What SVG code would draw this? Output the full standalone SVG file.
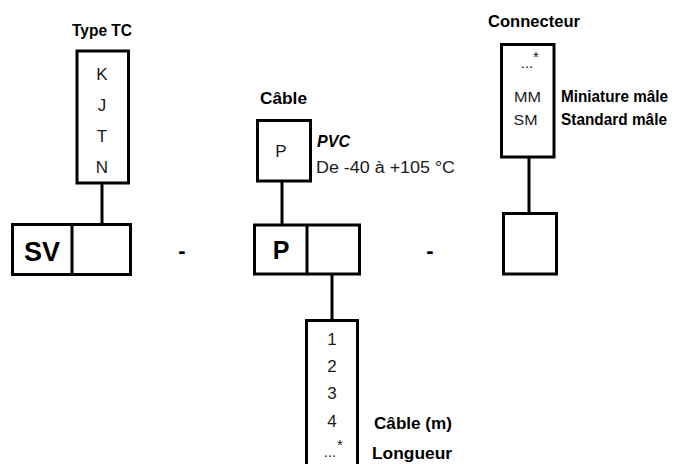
<svg xmlns="http://www.w3.org/2000/svg" width="678" height="464" viewBox="0 0 678 464">
<style>
.box{fill:#fff;stroke:#000;stroke-width:3}
.ln{stroke:#000;stroke-width:3;fill:none}
.t{font-family:"Liberation Sans",Arial,sans-serif;font-size:17px;fill:#1a1a1a;text-anchor:middle}
.b{font-family:"Liberation Sans",Arial,sans-serif;font-size:17px;font-weight:bold;fill:#000}
.big{font-family:"Liberation Sans",Arial,sans-serif;font-weight:bold;fill:#000;text-anchor:middle}
.s{font-family:"Liberation Sans",Arial,sans-serif;font-size:15px;fill:#1a1a1a;text-anchor:middle}
</style>
<rect width="678" height="464" fill="#fff"/>
<g id="connectors">
<line class="ln" x1="102" y1="183" x2="102" y2="224"/>
<line class="ln" x1="282" y1="181" x2="282" y2="225"/>
<line class="ln" x1="332" y1="274" x2="332" y2="320"/>
<line class="ln" x1="529" y1="157" x2="529" y2="213"/>
</g>
<g id="typetc">
<text class="b" x="72" y="36" textLength="60" lengthAdjust="spacingAndGlyphs">Type TC</text>
<rect class="box" x="77" y="51" width="51.5" height="132"/>
<text class="t" x="102" y="80">K</text>
<text class="t" x="102" y="111">J</text>
<text class="t" x="102" y="142">T</text>
<text class="t" x="102" y="173">N</text>
</g>
<g id="sv">
<rect class="box" x="12.5" y="224.5" width="118" height="50"/>
<line class="ln" x1="72" y1="224.5" x2="72" y2="274.5"/>
<text class="big" x="42" y="261" font-size="27">SV</text>
</g>
<text class="big" x="182" y="258" font-size="22">-</text>
<g id="cable">
<text class="b" x="260" y="104" textLength="47" lengthAdjust="spacingAndGlyphs">Câble</text>
<rect class="box" x="257.5" y="120.5" width="53" height="60.5"/>
<text class="t" x="281" y="157">P</text>
<text class="b" x="317" y="147" font-style="italic" textLength="33" lengthAdjust="spacingAndGlyphs">PVC</text>
<text x="316" y="173" font-family="Liberation Sans,Arial,sans-serif" font-size="16" fill="#1a1a1a" textLength="139" lengthAdjust="spacingAndGlyphs">De -40 à +105 °C</text>
</g>
<g id="p">
<rect class="box" x="254.5" y="225" width="105" height="49"/>
<line class="ln" x1="307" y1="225" x2="307" y2="274"/>
<text class="big" x="281" y="259" font-size="25">P</text>
</g>
<text class="big" x="430" y="258" font-size="22">-</text>
<g id="longueur">
<path class="ln" d="M306.5 470 V320.5 H357.5 V470"/>
<text class="t" x="332" y="345" font-size="18">1</text>
<text class="t" x="332" y="372" font-size="18">2</text>
<text class="t" x="332" y="399" font-size="18">3</text>
<text class="t" x="332" y="427" font-size="18">4</text>
<text class="s" x="330" y="457">...</text>
<text class="s" x="340" y="450" font-size="12">*</text>
<text class="b" x="374" y="429" textLength="78" lengthAdjust="spacingAndGlyphs">Câble (m)</text>
<text class="b" x="372" y="459" textLength="80" lengthAdjust="spacingAndGlyphs">Longueur</text>
</g>
<g id="connecteur">
<text class="b" x="488" y="27" textLength="92" lengthAdjust="spacingAndGlyphs">Connecteur</text>
<rect class="box" x="501.5" y="44.5" width="52.5" height="112.5"/>
<text class="s" x="527" y="68">...</text>
<text class="s" x="536" y="62" font-size="12">*</text>
<text class="s" x="527.5" y="102" textLength="27" lengthAdjust="spacingAndGlyphs">MM</text>
<text class="s" x="525.5" y="125" textLength="24" lengthAdjust="spacingAndGlyphs">SM</text>
<text class="b" x="561" y="102" font-size="16" textLength="107" lengthAdjust="spacingAndGlyphs">Miniature mâle</text>
<text class="b" x="561" y="125" font-size="16" textLength="106" lengthAdjust="spacingAndGlyphs">Standard mâle</text>
</g>
<g id="connecteur-box">
<rect class="box" x="503.5" y="213.5" width="53" height="60.5"/>
</g>
</svg>
